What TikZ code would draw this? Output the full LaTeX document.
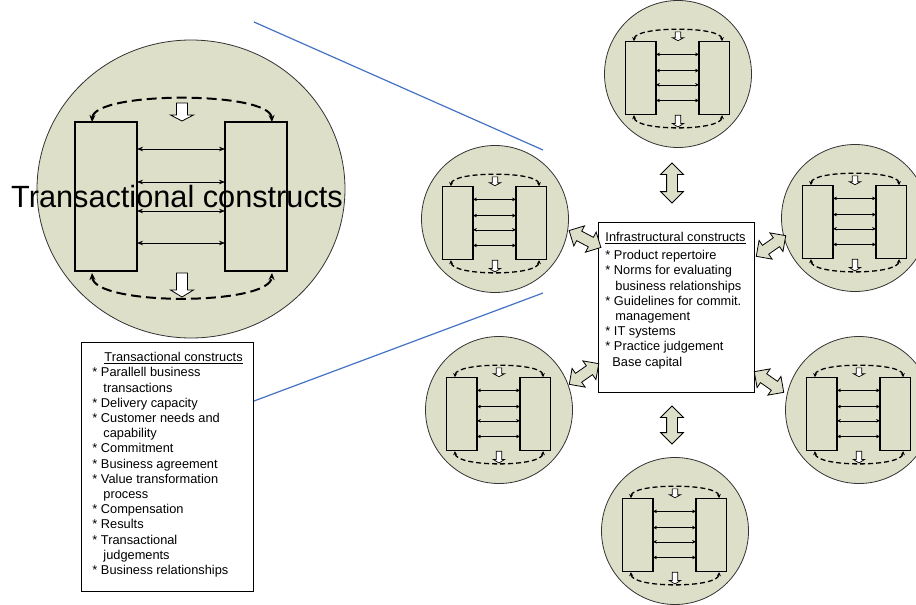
\documentclass[tikz,border=0pt]{standalone}
\usepackage{fontspec}
\setmainfont{Liberation Sans}
\usetikzlibrary{positioning}
\usetikzlibrary{arrows.meta}
\usetikzlibrary{shapes.arrows}

\definecolor{unitfill}{RGB}{221,223,201}
\definecolor{zoomblue}{RGB}{68,114,196}

\tikzset{
  unitbg/.style={draw=black!80, fill=unitfill, line width=0.8pt},
  unitround/.style={radius=150},
  partbox/.style={draw=black, fill=unitfill, line width=1.4pt},
  flowline/.style={line width=0.6pt, {Stealth[length=6pt,width=4.5pt]}-{Stealth[length=6pt,width=4.5pt]}},
  loopline/.style={line width=2pt, dash pattern=on 10pt off 5pt, {Stealth[length=7pt,width=6pt]}-{Stealth[length=7pt,width=6pt]}},
  pushbox/.style={draw=black, fill=white, line width=0.8pt, line join=miter},
  small unit/.style={scale=0.49,
    partbox/.style={draw=black, fill=unitfill, line width=1.2pt},
    flowline/.style={line width=0.5pt, {Stealth[length=4pt,width=3.5pt]}-{Stealth[length=4pt,width=3.5pt]}},
    loopline/.style={line width=1.3pt, dash pattern=on 5pt off 3pt, {Stealth[length=4pt,width=4pt]}-{Stealth[length=4pt,width=4pt]}},
    pushbox/.style={draw=black, fill=white, line width=0.7pt}},
  linkarrow/.style={shape=double arrow, draw=black, fill=unitfill, line width=0.8pt,
    inner xsep=0pt, inner ysep=5pt, minimum width=10pt, minimum height=36pt,
    double arrow head extend=6pt},
  zoomline/.style={draw=zoomblue, line width=1.2pt},
  listbox/.style={draw=black, line width=0.9pt, inner ysep=10pt},
  listfont/.style={font=\fontsize{12.8}{15.2}\selectfont},
  bigtitle/.style={font=\fontsize{30.7}{36}\selectfont, inner sep=0pt},
  unit/.pic={
    \draw[unitbg, unitround] (0,0) circle;
    \draw[partbox] (-107,-67) rectangle (-45,82);
    \draw[partbox] (43,-67) rectangle (105,82);
    \foreach \yy in {-40,-7,22,54}
      \draw[flowline] (-45,\yy) -- (43,\yy);
    \draw[loopline] (-90,-67) .. controls (-88,-98) and (88,-98) .. (90,-67);
    \draw[loopline] (-90,84) .. controls (-88,117) and (88,117) .. (90,84);
    \draw[pushbox] (-5.5,-86) -- (5.5,-86) -- (5.5,-74) -- (11.5,-74) -- (0,-68) -- (-11.5,-74) -- (-5.5,-74) -- cycle;
    \draw[pushbox] (-5.5,84) -- (5.5,84) -- (5.5,101) -- (11.5,101) -- (0,108) -- (-11.5,101) -- (-5.5,101) -- cycle;
  }
}

\begin{document}
\begin{tikzpicture}[x=1pt,y=-1pt]
\useasboundingbox (0,0) rectangle (916,605);

% the zoomed unit and its neighbours
\pic[unitround/.style={xshift=9pt, x radius=154, y radius=149}] (big) at (182,189) {unit};
\pic[small unit] (unitN) at (678,74) {unit};
\pic[small unit] (unitW) at (495,219) {unit};
\pic[small unit] (unitE) at (855,218) {unit};
\pic[small unit] (unitSW) at (499,410) {unit};
\pic[small unit] (unitSE) at (859,410) {unit};
\pic[small unit] (unitS) at (675,531) {unit};

\coordinate (zoomA) at (254,22);
\coordinate (zoomB) at (543,150);
\coordinate (zoomC) at (254,401);
\coordinate (zoomD) at (543,293);
\draw[zoomline] (zoomA) -- (zoomB);
\draw[zoomline] (zoomC) -- (zoomD);

\node[listbox, listfont, anchor=north west, inner xsep=11pt] (translist) at (81,342)
  {\parbox[c][229pt][t]{150pt}{\hspace*{12pt}\underline{Transactional constructs}\\
   {*} Parallell business\\
   \hspace*{11pt}transactions\\
   {*} Delivery capacity\\
   {*} Customer needs and\\
   \hspace*{11pt}capability\\
   {*} Commitment\\
   {*} Business agreement\\
   {*} Value transformation\\
   \hspace*{11pt}process\\
   {*} Compensation\\
   {*} Results\\
   {*} Transactional\\
   \hspace*{11pt}judgements\\
   {*} Business relationships}};

\node[listbox, listfont, fill=white, anchor=north west, inner xsep=7pt] (infralist) at (598,222)
  {\parbox[c][150pt][t]{142pt}{\underline{Infrastructural constructs}\\[2.7pt]
   {*} Product repertoire\\
   {*} Norms for evaluating\\
   \hspace*{10pt}business relationships\\
   {*} Guidelines for commit.\\
   \hspace*{10pt}management\\
   {*} IT systems\\
   {*} Practice judgement\\
   \hspace*{7pt}Base capital}};

\node[linkarrow, rotate=90, minimum height=40pt] (linkN) at (672,183) {};
\node[linkarrow, rotate=90, minimum height=38pt] (linkS) at (672,425) {};
\node[linkarrow, rotate=-28] (linkW) at (585,239) {};
\node[linkarrow, rotate=35] (linkE) at (771,246) {};
\node[linkarrow, rotate=35] (linkSW) at (584,374) {};
\node[linkarrow, rotate=-35] (linkSE) at (769,382) {};

\node[bigtitle, anchor=base] (title) at (177,207) {Transactional constructs};
\end{tikzpicture}
\end{document}
